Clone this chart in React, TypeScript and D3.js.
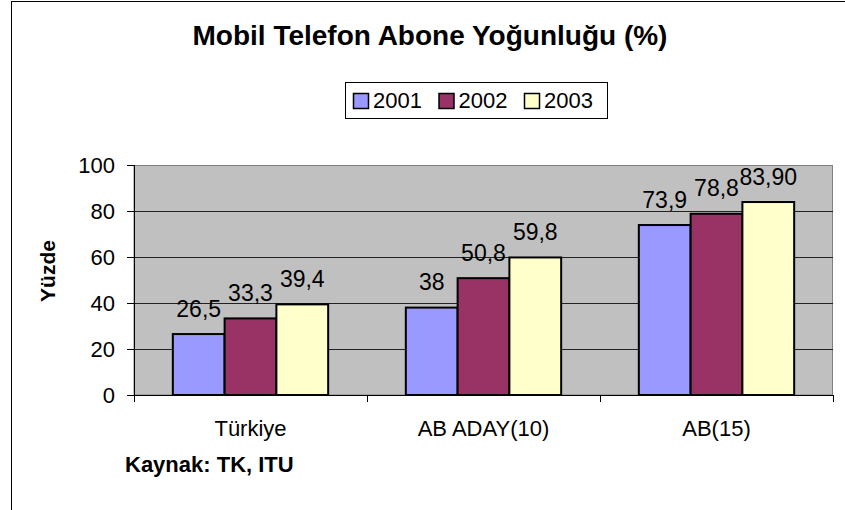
import * as d3 from 'd3';
import { type FC } from 'react';

const categories = ['Türkiye', 'AB ADAY(10)', 'AB(15)'];
const seriesNames = ['2001', '2002', '2003'];
const seriesColors = ['#9999FF', '#993366', '#FFFFCC'];
const values2001 = [26.5, 38, 73.9];
const values2002 = [33.3, 50.8, 78.8];
const values2003 = [39.4, 59.8, 83.9];
const labels2001 = ['26,5', '38', '73,9'];
const labels2002 = ['33,3', '50,8', '78,8'];
const labels2003 = ['39,4', '59,8', '83,90'];
const yTicks = [0, 20, 40, 60, 80, 100];

const seriesValues = [values2001, values2002, values2003];
const seriesLabels = [labels2001, labels2002, labels2003];

const width = 845;
const height = 510;
const plotLeft = 134;
const plotRight = 833;
const plotTop = 165;
const plotBottom = 395;
const font = 'Arial, "Liberation Sans", sans-serif';

const App: FC = () => {
  const x0 = d3.scaleBand<string>().domain(categories).range([plotLeft, plotRight]).padding(0);
  const x1 = d3
    .scaleBand<string>()
    .domain(seriesNames)
    .range([0, x0.bandwidth()])
    .paddingInner(0)
    .paddingOuter(0.75);
  const y = d3.scaleLinear().domain([0, 100]).range([plotBottom, plotTop]);

  const boundaries = [...categories.map((c) => x0(c) as number), plotRight];

  return (
    <svg
      width={width}
      height={height}
      viewBox={`0 0 ${width} ${height}`}
      style={{ position: 'absolute', left: 0, top: 0, background: '#fff' }}
      fontFamily={font}
    >
      {/* chart frame, runs off the right and bottom edge */}
      <rect x={11.5} y={1.5} width={900} height={600} fill='#fff' stroke='#000' strokeWidth={1} />

      <text x={430} y={45} textAnchor='middle' fontSize={28} fontWeight='bold'>
        Mobil Telefon Abone Yoğunluğu (%)
      </text>

      {/* legend */}
      <rect x={345.5} y={82.5} width={262} height={36} fill='#fff' stroke='#000' strokeWidth={1} />
      {seriesNames.map((s, i) => (
        <g key={s} transform={`translate(${353 + i * 85.5},0)`}>
          <rect x={0.5} y={93.5} width={15} height={15} fill={seriesColors[i]} stroke='#000' strokeWidth={1.5} />
          <text x={20} y={108} fontSize={22}>
            {s}
          </text>
        </g>
      ))}

      {/* plot area */}
      <rect
        x={plotLeft}
        y={plotTop + 0.5}
        width={plotRight - plotLeft - 0.5}
        height={plotBottom - plotTop - 0.5}
        fill='#C0C0C0'
        stroke='#808080'
        strokeWidth={1}
      />
      {yTicks
        .filter((t) => t > 0 && t < 100)
        .map((t) => (
          <line key={t} x1={plotLeft} x2={plotRight} y1={y(t) + 0.5} y2={y(t) + 0.5} stroke='#222' strokeWidth={1} />
        ))}

      {/* bars */}
      {seriesNames.map((s, si) => (
        <g key={s}>
          {categories.map((c, ci) => {
            const bx = (x0(c) as number) + (x1(s) as number);
            const v = seriesValues[si][ci];
            return (
              <g key={c}>
                <rect
                  x={bx}
                  y={y(v)}
                  width={x1.bandwidth()}
                  height={plotBottom - y(v)}
                  fill={seriesColors[si]}
                  stroke='#000'
                  strokeWidth={2}
                />
                <text x={bx + x1.bandwidth() / 2} y={y(v) - 17.5} textAnchor='middle' fontSize={23}>
                  {seriesLabels[si][ci]}
                </text>
              </g>
            );
          })}
        </g>
      ))}

      {/* axes */}
      <line x1={plotLeft + 0.5} x2={plotLeft + 0.5} y1={plotTop} y2={plotBottom} stroke='#000' strokeWidth={1} />
      <line x1={plotLeft} x2={plotRight} y1={plotBottom + 0.5} y2={plotBottom + 0.5} stroke='#000' strokeWidth={1} />
      {yTicks.map((t) => (
        <g key={t}>
          <line x1={plotLeft - 7} x2={plotLeft} y1={y(t) + 0.5} y2={y(t) + 0.5} stroke='#000' strokeWidth={1} />
          <text x={115} y={y(t)} dy='0.36em' textAnchor='end' fontSize={22}>
            {t}
          </text>
        </g>
      ))}
      {boundaries.map((bx, i) => (
        <line key={i} x1={bx + 0.5} x2={bx + 0.5} y1={plotBottom} y2={plotBottom + 7} stroke='#000' strokeWidth={1} />
      ))}
      {categories.map((c) => (
        <text key={c} x={(x0(c) as number) + x0.bandwidth() / 2} y={436} textAnchor='middle' fontSize={22}>
          {c}
        </text>
      ))}

      <text transform='translate(55,271) rotate(-90)' textAnchor='middle' fontSize={21} fontWeight='bold'>
        Yüzde
      </text>
      <text x={125} y={472} fontSize={22} fontWeight='bold'>
        Kaynak: TK, ITU
      </text>
    </svg>
  );
};

export default App;
